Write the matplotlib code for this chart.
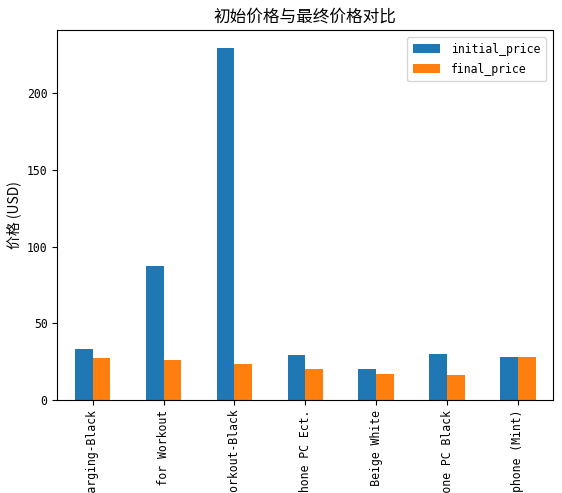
import matplotlib
matplotlib.use("Agg")
import matplotlib.pyplot as plt
import numpy as np
from matplotlib.font_manager import FontProperties

products = [
    "Wireless Earbuds with Fast Charging-Black",
    "Bluetooth Sports Headphones for Workout",
    "Sports Earbuds Sweatproof for Workout-Black",
    "USB Headset with Microphone for Phone PC Ect.",
    "Over Ear Wireless Headphones, Beige White",
    "Gaming Headset with Microphone for Phone PC Black",
    "Kids Wired Headphones with Microphone (Mint)",
]
initial_price = [33.3, 87.4, 229.6, 29.3, 20.2, 30.0, 28.0]
final_price = [27.4, 26.1, 23.5, 20.2, 17.0, 16.3, 28.0]
series_names = ["initial_price", "final_price"]
colors = ["#1f77b4", "#ff7f0e"]

mono = FontProperties(family="DejaVu Sans Mono", size=8.3)
cjk_label = FontProperties(family=["Noto Sans CJK SC", "DejaVu Sans"], size=10)
cjk_title = FontProperties(family=["Noto Sans CJK SC", "DejaVu Sans"], size=12)

fig = plt.figure(figsize=(5.62, 4.93), dpi=100)
ax = fig.add_axes([0.102, 0.1886, 0.8825, 0.7499])

x = np.arange(len(products))
w = 0.25
ax.bar(x - w / 2, initial_price, w, color=colors[0], label=series_names[0])
ax.bar(x + w / 2, final_price, w, color=colors[1], label=series_names[1])

ax.set_xlim(-0.5, len(products) - 0.5)
ax.set_ylim(0, max(initial_price) * 1.05)
ax.set_xticks(x)
ax.set_xticklabels(products, rotation=90, fontproperties=mono)
ax.set_yticks([0, 50, 100, 150, 200])
for lab in ax.get_yticklabels():
    lab.set_fontproperties(mono)

ax.set_ylabel("价格 (USD)", fontproperties=cjk_label)
ax.set_title("初始价格与最终价格对比", fontproperties=cjk_title)

s = 10 / 8.3
ax.legend(prop=mono, loc="upper right", borderpad=0.4 * s, labelspacing=0.5 * s,
          handlelength=2.0 * s, handleheight=0.7 * s, handletextpad=0.8 * s,
          borderaxespad=0.5 * s)

fig.savefig("out.png", dpi=100)
